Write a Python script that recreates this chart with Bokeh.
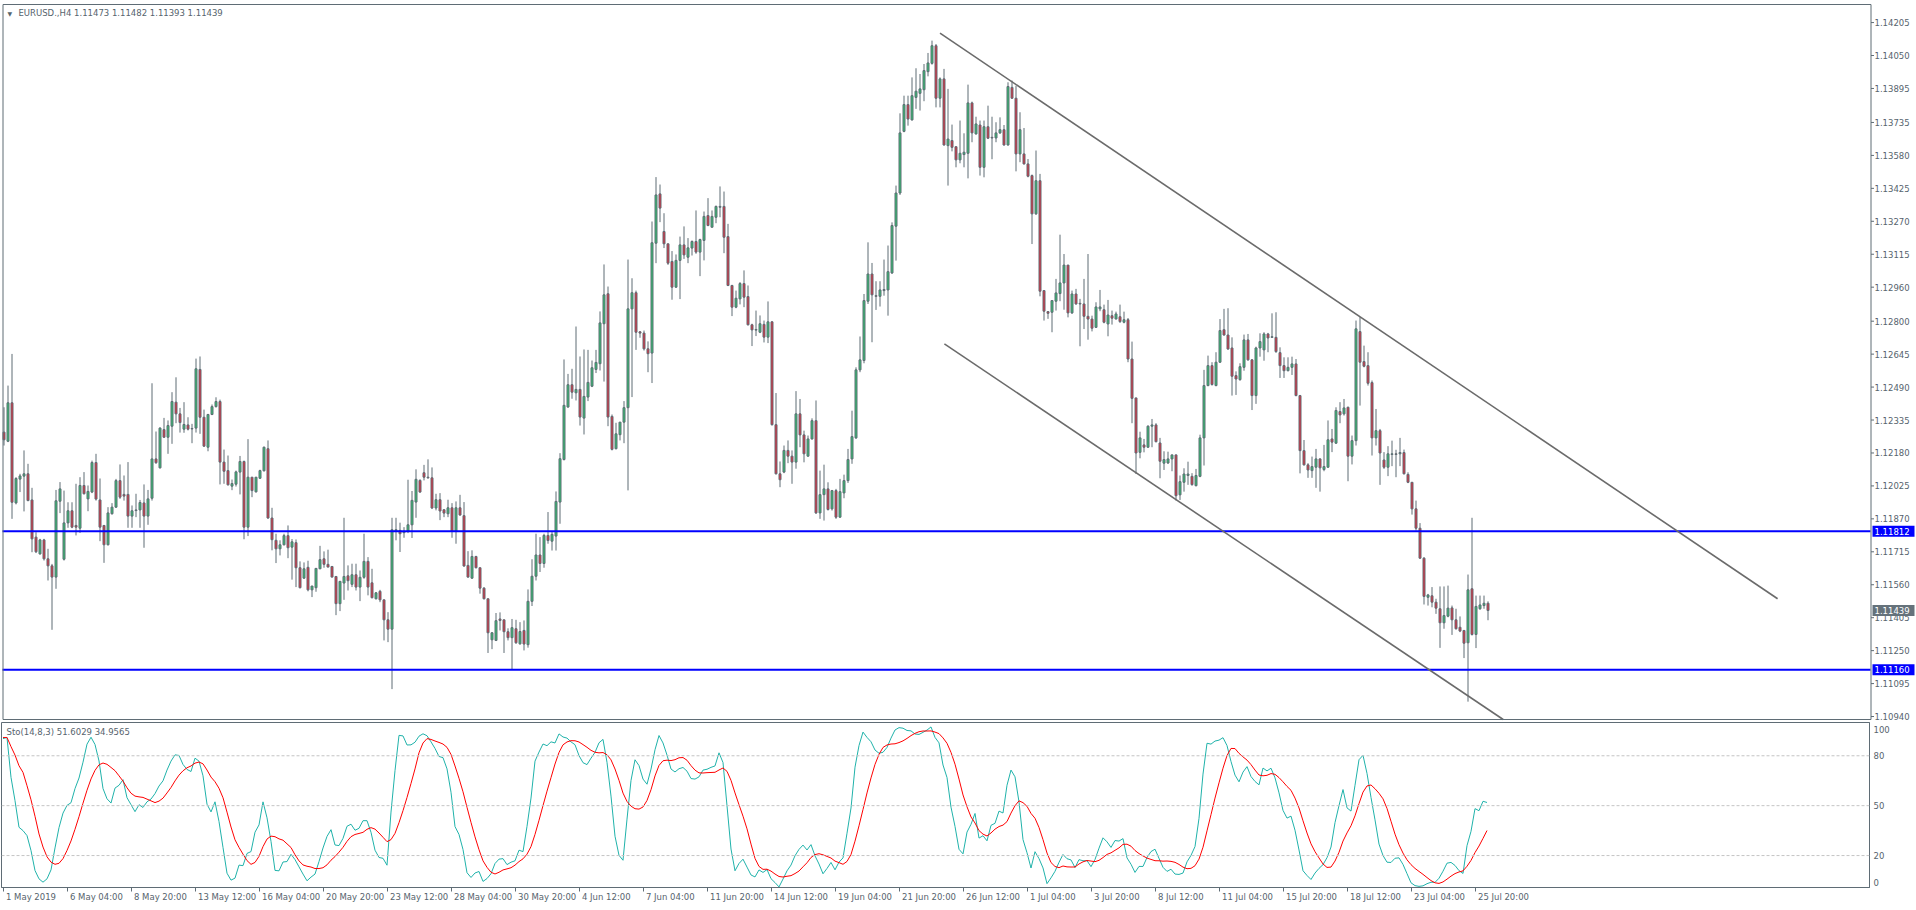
import numpy as np
from bokeh.plotting import figure
from bokeh.layouts import column
from bokeh.models import (Range1d, FixedTicker, CustomJSTickFormatter,
                          Span, Label, LinearAxis, ColumnDataSource)
from bokeh.core.properties import value
from bokeh.embed import file_html
from bokeh.resources import INLINE

# ---------------- data (EURUSD H4, bars 1 May 2019 12:00 .. 26 Jul 2019 08:00) ----------------
symbol_title = "EURUSD.,H4  1.11473 1.11482 1.11393 1.11439"
sto_title = "Sto(14,8,3) 51.6029 34.9565"
sto_k_period, sto_d_period, sto_slowing = 14, 8, 3

bar_open = [
 1.12278, 1.12235, 1.12416, 1.11945, 1.12057, 1.12071, 1.12082, 1.11959, 1.11784, 1.11705,
 1.11771, 1.11682, 1.11649, 1.11596, 1.11953, 1.11680, 1.11851, 1.11908, 1.11839, 1.11826,
 1.12027, 1.11964, 1.11996, 1.12135, 1.11959, 1.11839, 1.11748, 1.11894, 1.11925, 1.12050,
 1.11985, 1.11985, 1.11883, 1.11909, 1.11912, 1.11945, 1.11883, 1.11967, 1.12152, 1.12110,
 1.12290, 1.12254, 1.12306, 1.12419, 1.12364, 1.12292, 1.12312, 1.12295, 1.12297, 1.12573,
 1.12348, 1.12207, 1.12361, 1.12398, 1.12422, 1.12137, 1.12097, 1.12024, 1.12033, 1.12090,
 1.12140, 1.11831, 1.12066, 1.11997, 1.12061, 1.12096, 1.12200, 1.11874, 1.11769, 1.11729,
 1.11748, 1.11791, 1.11737, 1.11758, 1.11640, 1.11591, 1.11642, 1.11536, 1.11546, 1.11635,
 1.11682, 1.11656, 1.11646, 1.11599, 1.11471, 1.11568, 1.11602, 1.11562, 1.11607, 1.11549,
 1.11595, 1.11670, 1.11569, 1.11494, 1.11529, 1.11489, 1.11395, 1.11351, 1.11811, 1.11816,
 1.11805, 1.11811, 1.11842, 1.11949, 1.12051, 1.12087, 1.12066, 1.12063, 1.11921, 1.11960,
 1.11913, 1.11894, 1.11922, 1.11812, 1.11922, 1.11885, 1.11651, 1.11591, 1.11693, 1.11640,
 1.11544, 1.11494, 1.11301, 1.11298, 1.11399, 1.11395, 1.11339, 1.11311, 1.11353, 1.11282,
 1.11345, 1.11278, 1.11482, 1.11600, 1.11700, 1.11660, 1.11792, 1.11765, 1.11789, 1.11949,
 1.12149, 1.12396, 1.12501, 1.12463, 1.12479, 1.12344, 1.12443, 1.12494, 1.12573, 1.12600,
 1.12788, 1.12929, 1.12352, 1.12200, 1.12266, 1.12325, 1.12393, 1.12858, 1.12934, 1.12750,
 1.12744, 1.12670, 1.12650, 1.13167, 1.13399, 1.13222, 1.13164, 1.13081, 1.12960, 1.13086,
 1.13159, 1.13101, 1.13144, 1.13175, 1.13125, 1.13180, 1.13297, 1.13242, 1.13289, 1.13336,
 1.13340, 1.13198, 1.12968, 1.12866, 1.12905, 1.12977, 1.12916, 1.12783, 1.12761, 1.12748,
 1.12785, 1.12725, 1.12797, 1.12313, 1.12082, 1.12090, 1.12192, 1.12165, 1.12137, 1.12364,
 1.12265, 1.12165, 1.12246, 1.12332, 1.11898, 1.11984, 1.12011, 1.11917, 1.12003, 1.11878,
 1.11992, 1.12050, 1.12152, 1.12251, 1.12571, 1.12615, 1.12894, 1.13022, 1.12920, 1.12917,
 1.12944, 1.12947, 1.13027, 1.13247, 1.13403, 1.13693, 1.13819, 1.13747, 1.13853, 1.13872,
 1.13889, 1.13974, 1.14013, 1.14096, 1.13849, 1.13940, 1.13626, 1.13650, 1.13621, 1.13559,
 1.13584, 1.13590, 1.13827, 1.13681, 1.13723, 1.13524, 1.13715, 1.13665, 1.13662, 1.13686,
 1.13701, 1.13629, 1.13900, 1.13849, 1.13587, 1.13587, 1.13540, 1.13485, 1.13305, 1.13461,
 1.12944, 1.12845, 1.12842, 1.12894, 1.12930, 1.12980, 1.13064, 1.12839, 1.12928, 1.12884,
 1.12881, 1.12823, 1.12810, 1.12771, 1.12858, 1.12854, 1.12787, 1.12826, 1.12810, 1.12821,
 1.12795, 1.12807, 1.12622, 1.12439, 1.12183, 1.12218, 1.12207, 1.12306, 1.12312, 1.12227,
 1.12132, 1.12133, 1.12152, 1.12171, 1.11983, 1.12042, 1.12074, 1.12070, 1.12026, 1.12070,
 1.12251, 1.12497, 1.12591, 1.12497, 1.12607, 1.12760, 1.12735, 1.12674, 1.12544, 1.12525,
 1.12583, 1.12712, 1.12618, 1.12450, 1.12674, 1.12665, 1.12740, 1.12724, 1.12724, 1.12652,
 1.12591, 1.12567, 1.12583, 1.12599, 1.12450, 1.12191, 1.12124, 1.12097, 1.12113, 1.12152,
 1.12102, 1.12113, 1.12246, 1.12226, 1.12375, 1.12364, 1.12395, 1.12165, 1.12238, 1.12751,
 1.12610, 1.12591, 1.12511, 1.12251, 1.12285, 1.12147, 1.12113, 1.12173, 1.12176, 1.12176,
 1.12182, 1.12079, 1.12042, 1.11917, 1.11826, 1.11685, 1.11501, 1.11508, 1.11478, 1.11447,
 1.11381, 1.11412, 1.11451, 1.11395, 1.11360, 1.11345, 1.11287, 1.11541, 1.11326, 1.11447,
 1.11462, 1.11473]

bar_high = [
 1.12395, 1.12497, 1.12646, 1.12066, 1.12082, 1.12192, 1.12129, 1.12016, 1.11807, 1.11776,
 1.11776, 1.11729, 1.11658, 1.12006, 1.12043, 1.12003, 1.11948, 1.11948, 1.12035, 1.12066,
 1.12090, 1.12027, 1.12144, 1.12176, 1.12060, 1.11839, 1.11925, 1.11944, 1.12058, 1.12126,
 1.12074, 1.12137, 1.11933, 1.11988, 1.11959, 1.12032, 1.12006, 1.12508, 1.12281, 1.12301,
 1.12345, 1.12333, 1.12466, 1.12536, 1.12392, 1.12419, 1.12348, 1.12317, 1.12624, 1.12634,
 1.12384, 1.12364, 1.12408, 1.12442, 1.12431, 1.12196, 1.12168, 1.12055, 1.12097, 1.12166,
 1.12144, 1.12245, 1.12066, 1.12066, 1.12101, 1.12210, 1.12239, 1.11922, 1.11800, 1.11769,
 1.11800, 1.11839, 1.11775, 1.11773, 1.11670, 1.11665, 1.11673, 1.11554, 1.11637, 1.11743,
 1.11717, 1.11725, 1.11646, 1.11599, 1.11576, 1.11875, 1.11651, 1.11659, 1.11659, 1.11627,
 1.11800, 1.11690, 1.11635, 1.11526, 1.11536, 1.11489, 1.11431, 1.11875, 1.11875, 1.11852,
 1.11831, 1.12054, 1.12001, 1.12103, 1.12056, 1.12124, 1.12150, 1.12112, 1.11988, 1.11991,
 1.11913, 1.11960, 1.11944, 1.11952, 1.11983, 1.11949, 1.11718, 1.11722, 1.11696, 1.11640,
 1.11549, 1.11494, 1.11337, 1.11427, 1.11430, 1.11395, 1.11355, 1.11399, 1.11395, 1.11384,
 1.11392, 1.11538, 1.11680, 1.11800, 1.11784, 1.11800, 1.11902, 1.11808, 1.11999, 1.12179,
 1.12620, 1.12552, 1.12576, 1.12775, 1.12634, 1.12667, 1.12665, 1.12615, 1.12665, 1.12846,
 1.13067, 1.12963, 1.12361, 1.12322, 1.12325, 1.12424, 1.13090, 1.13002, 1.12944, 1.12753,
 1.12756, 1.12705, 1.13269, 1.13478, 1.13443, 1.13308, 1.13164, 1.13130, 1.13114, 1.13198,
 1.13246, 1.13191, 1.13180, 1.13321, 1.13188, 1.13316, 1.13379, 1.13321, 1.13344, 1.13434,
 1.13410, 1.13258, 1.12971, 1.12944, 1.12984, 1.13039, 1.12968, 1.12788, 1.12850, 1.12827,
 1.12803, 1.12893, 1.12800, 1.12462, 1.12140, 1.12215, 1.12239, 1.12192, 1.12471, 1.12434,
 1.12285, 1.12262, 1.12343, 1.12427, 1.12097, 1.12125, 1.12042, 1.12006, 1.12011, 1.12058,
 1.12078, 1.12199, 1.12379, 1.12583, 1.12728, 1.12928, 1.13171, 1.13074, 1.12988, 1.12988,
 1.13090, 1.13156, 1.13265, 1.13438, 1.13778, 1.13861, 1.13861, 1.13947, 1.13990, 1.13963,
 1.14010, 1.14062, 1.14120, 1.14104, 1.13947, 1.13987, 1.13893, 1.13725, 1.13621, 1.13744,
 1.13684, 1.13913, 1.13833, 1.13762, 1.13744, 1.13744, 1.13814, 1.13762, 1.13736, 1.13759,
 1.13723, 1.13924, 1.13932, 1.13908, 1.13783, 1.13709, 1.13563, 1.13490, 1.13603, 1.13493,
 1.12944, 1.12847, 1.12897, 1.12999, 1.13207, 1.13116, 1.13064, 1.12944, 1.12952, 1.12905,
 1.12999, 1.13116, 1.12826, 1.12889, 1.12947, 1.12878, 1.12900, 1.12850, 1.12845, 1.12878,
 1.12845, 1.12815, 1.12704, 1.12439, 1.12280, 1.12246, 1.12310, 1.12340, 1.12320, 1.12251,
 1.12188, 1.12186, 1.12172, 1.12172, 1.12074, 1.12108, 1.12139, 1.12085, 1.12105, 1.12266,
 1.12571, 1.12638, 1.12607, 1.12654, 1.12810, 1.12858, 1.12861, 1.12724, 1.12564, 1.12602,
 1.12737, 1.12740, 1.12622, 1.12680, 1.12743, 1.12748, 1.12745, 1.12837, 1.12842, 1.12677,
 1.12630, 1.12630, 1.12633, 1.12622, 1.12453, 1.12241, 1.12132, 1.12163, 1.12199, 1.12155,
 1.12218, 1.12333, 1.12293, 1.12395, 1.12419, 1.12434, 1.12398, 1.12262, 1.12803, 1.12819,
 1.12685, 1.12654, 1.12521, 1.12387, 1.12293, 1.12184, 1.12212, 1.12238, 1.12195, 1.12251,
 1.12196, 1.12089, 1.12042, 1.11956, 1.11850, 1.11690, 1.11517, 1.11549, 1.11494, 1.11552,
 1.11552, 1.11556, 1.11462, 1.11447, 1.11411, 1.11345, 1.11608, 1.11875, 1.11509, 1.11509,
 1.11509, 1.11482]

bar_low = [
 1.12215, 1.12231, 1.11870, 1.11938, 1.11996, 1.11905, 1.11953, 1.11713, 1.11709, 1.11702,
 1.11674, 1.11580, 1.11348, 1.11541, 1.11897, 1.11674, 1.11828, 1.11826, 1.11792, 1.11804,
 1.11985, 1.11906, 1.11991, 1.11956, 1.11765, 1.11663, 1.11745, 1.11890, 1.11922, 1.11964,
 1.11956, 1.11828, 1.11828, 1.11878, 1.11828, 1.11734, 1.11842, 1.11956, 1.12129, 1.12107,
 1.12251, 1.12176, 1.12223, 1.12320, 1.12276, 1.12275, 1.12286, 1.12226, 1.12276, 1.12270,
 1.12209, 1.12188, 1.12358, 1.12394, 1.12032, 1.12035, 1.12027, 1.12005, 1.12022, 1.11985,
 1.11774, 1.11789, 1.11972, 1.11994, 1.12058, 1.12093, 1.11870, 1.11722, 1.11662, 1.11698,
 1.11745, 1.11685, 1.11584, 1.11549, 1.11543, 1.11588, 1.11529, 1.11502, 1.11527, 1.11634,
 1.11640, 1.11643, 1.11595, 1.11417, 1.11436, 1.11489, 1.11533, 1.11549, 1.11533, 1.11483,
 1.11588, 1.11510, 1.11496, 1.11491, 1.11478, 1.11298, 1.11290, 1.11069, 1.11769, 1.11714,
 1.11781, 1.11803, 1.11780, 1.11875, 1.11993, 1.12051, 1.12059, 1.11916, 1.11910, 1.11864,
 1.11878, 1.11878, 1.11781, 1.11753, 1.11885, 1.11645, 1.11593, 1.11588, 1.11637, 1.11518,
 1.11491, 1.11239, 1.11257, 1.11295, 1.11345, 1.11239, 1.11298, 1.11160, 1.11282, 1.11278,
 1.11251, 1.11264, 1.11460, 1.11580, 1.11620, 1.11640, 1.11753, 1.11721, 1.11721, 1.11847,
 1.12145, 1.12393, 1.12435, 1.12427, 1.12309, 1.12267, 1.12424, 1.12490, 1.12556, 1.12568,
 1.12516, 1.12306, 1.12192, 1.12197, 1.12239, 1.12226, 1.12004, 1.12443, 1.12665, 1.12722,
 1.12662, 1.12560, 1.12509, 1.13073, 1.13266, 1.13144, 1.13065, 1.12901, 1.12957, 1.12904,
 1.13093, 1.13073, 1.13109, 1.13117, 1.13012, 1.13086, 1.13247, 1.13242, 1.13261, 1.13289,
 1.13120, 1.12965, 1.12824, 1.12861, 1.12879, 1.12866, 1.12780, 1.12683, 1.12730, 1.12744,
 1.12700, 1.12697, 1.12309, 1.12079, 1.12019, 1.12085, 1.12132, 1.12035, 1.12106, 1.12207,
 1.12136, 1.12163, 1.12243, 1.11893, 1.11870, 1.11862, 1.11909, 1.11909, 1.11870, 1.11875,
 1.11967, 1.12039, 1.12129, 1.12246, 1.12560, 1.12602, 1.12881, 1.12701, 1.12853, 1.12869,
 1.12920, 1.12826, 1.13022, 1.13085, 1.13394, 1.13689, 1.13720, 1.13744, 1.13799, 1.13791,
 1.13835, 1.13952, 1.14007, 1.13806, 1.13806, 1.13626, 1.13438, 1.13599, 1.13524, 1.13543,
 1.13524, 1.13472, 1.13642, 1.13678, 1.13485, 1.13477, 1.13657, 1.13562, 1.13642, 1.13681,
 1.13626, 1.13626, 1.13846, 1.13505, 1.13548, 1.13537, 1.13477, 1.13163, 1.13300, 1.12917,
 1.12803, 1.12811, 1.12748, 1.12850, 1.12894, 1.12854, 1.12818, 1.12834, 1.12878, 1.12682,
 1.12763, 1.12713, 1.12752, 1.12768, 1.12847, 1.12790, 1.12729, 1.12784, 1.12810, 1.12792,
 1.12790, 1.12607, 1.12320, 1.12081, 1.12155, 1.12183, 1.12204, 1.12207, 1.12230, 1.12061,
 1.12100, 1.12128, 1.12094, 1.11956, 1.11959, 1.11998, 1.12030, 1.12026, 1.12023, 1.12066,
 1.12121, 1.12494, 1.12497, 1.12494, 1.12604, 1.12732, 1.12666, 1.12450, 1.12453, 1.12520,
 1.12567, 1.12614, 1.12382, 1.12411, 1.12633, 1.12614, 1.12654, 1.12721, 1.12651, 1.12533,
 1.12533, 1.12564, 1.12547, 1.12447, 1.12084, 1.12121, 1.12063, 1.12063, 1.12016, 1.11998,
 1.12094, 1.12110, 1.12184, 1.12223, 1.12320, 1.12356, 1.12047, 1.12126, 1.12215, 1.12403,
 1.12583, 1.12497, 1.12168, 1.12215, 1.12030, 1.12105, 1.12071, 1.12118, 1.12066, 1.12118,
 1.12079, 1.12038, 1.11890, 1.11815, 1.11682, 1.11467, 1.11462, 1.11454, 1.11423, 1.11263,
 1.11353, 1.11407, 1.11324, 1.11349, 1.11337, 1.11215, 1.11010, 1.11321, 1.11262, 1.11442,
 1.11447, 1.11393]

bar_close = [
 1.12242, 1.12416, 1.11948, 1.12060, 1.12072, 1.12082, 1.11956, 1.11776, 1.11715, 1.11771,
 1.11682, 1.11649, 1.11596, 1.11955, 1.12011, 1.11851, 1.11908, 1.11831, 1.11831, 1.12027,
 1.11988, 1.11999, 1.12135, 1.11963, 1.11831, 1.11748, 1.11898, 1.11925, 1.12050, 1.11972,
 1.11977, 1.11883, 1.11908, 1.11912, 1.11947, 1.11883, 1.11964, 1.12152, 1.12134, 1.12297,
 1.12254, 1.12309, 1.12422, 1.12364, 1.12323, 1.12314, 1.12292, 1.12293, 1.12576, 1.12348,
 1.12212, 1.12361, 1.12398, 1.12422, 1.12137, 1.12094, 1.12030, 1.12036, 1.12091, 1.12140,
 1.11831, 1.12066, 1.12003, 1.12066, 1.12097, 1.12207, 1.11874, 1.11772, 1.11729, 1.11748,
 1.11791, 1.11734, 1.11762, 1.11640, 1.11546, 1.11635, 1.11536, 1.11554, 1.11637, 1.11678,
 1.11656, 1.11643, 1.11596, 1.11471, 1.11576, 1.11599, 1.11579, 1.11607, 1.11549, 1.11595,
 1.11670, 1.11549, 1.11499, 1.11522, 1.11489, 1.11395, 1.11351, 1.11819, 1.11819, 1.11800,
 1.11811, 1.11842, 1.11957, 1.12056, 1.11996, 1.12066, 1.12063, 1.11921, 1.11960, 1.11907,
 1.11897, 1.11922, 1.11812, 1.11922, 1.11888, 1.11648, 1.11596, 1.11693, 1.11640, 1.11544,
 1.11494, 1.11334, 1.11334, 1.11391, 1.11392, 1.11339, 1.11311, 1.11358, 1.11287, 1.11340,
 1.11281, 1.11482, 1.11600, 1.11700, 1.11660, 1.11792, 1.11768, 1.11797, 1.11952, 1.12153,
 1.12404, 1.12501, 1.12466, 1.12479, 1.12349, 1.12446, 1.12512, 1.12581, 1.12606, 1.12792,
 1.12924, 1.12349, 1.12197, 1.12270, 1.12325, 1.12393, 1.12858, 1.12934, 1.12748, 1.12744,
 1.12670, 1.12647, 1.13169, 1.13394, 1.13332, 1.13164, 1.13073, 1.12960, 1.13086, 1.13159,
 1.13112, 1.13145, 1.13175, 1.13125, 1.13184, 1.13293, 1.13250, 1.13293, 1.13340, 1.13340,
 1.13195, 1.12968, 1.12866, 1.12908, 1.12977, 1.12913, 1.12783, 1.12759, 1.12758, 1.12788,
 1.12725, 1.12797, 1.12313, 1.12082, 1.12054, 1.12192, 1.12165, 1.12137, 1.12364, 1.12265,
 1.12176, 1.12246, 1.12332, 1.11898, 1.11984, 1.12011, 1.11914, 1.12003, 1.11878, 1.11998,
 1.12050, 1.12149, 1.12257, 1.12571, 1.12618, 1.12897, 1.13022, 1.12924, 1.12917, 1.12947,
 1.12949, 1.13033, 1.13250, 1.13403, 1.13686, 1.13819, 1.13751, 1.13861, 1.13882, 1.13893,
 1.13979, 1.14015, 1.14096, 1.13849, 1.13940, 1.13629, 1.13657, 1.13618, 1.13559, 1.13590,
 1.13595, 1.13827, 1.13686, 1.13728, 1.13524, 1.13715, 1.13661, 1.13662, 1.13686, 1.13701,
 1.13629, 1.13904, 1.13849, 1.13587, 1.13701, 1.13540, 1.13482, 1.13305, 1.13461, 1.12941,
 1.12847, 1.12837, 1.12897, 1.12933, 1.12980, 1.13064, 1.12839, 1.12928, 1.12881, 1.12881,
 1.12823, 1.12810, 1.12767, 1.12867, 1.12867, 1.12795, 1.12829, 1.12814, 1.12834, 1.12798,
 1.12807, 1.12622, 1.12437, 1.12180, 1.12251, 1.12207, 1.12306, 1.12312, 1.12233, 1.12141,
 1.12149, 1.12152, 1.12171, 1.11979, 1.12045, 1.12081, 1.12081, 1.12031, 1.12074, 1.12251,
 1.12497, 1.12591, 1.12502, 1.12607, 1.12756, 1.12735, 1.12669, 1.12541, 1.12528, 1.12586,
 1.12712, 1.12618, 1.12450, 1.12674, 1.12704, 1.12740, 1.12721, 1.12727, 1.12657, 1.12591,
 1.12567, 1.12583, 1.12599, 1.12450, 1.12191, 1.12124, 1.12100, 1.12116, 1.12152, 1.12110,
 1.12116, 1.12242, 1.12231, 1.12380, 1.12359, 1.12392, 1.12165, 1.12238, 1.12764, 1.12607,
 1.12588, 1.12508, 1.12251, 1.12285, 1.12180, 1.12113, 1.12176, 1.12176, 1.12173, 1.12182,
 1.12082, 1.12042, 1.11917, 1.11826, 1.11685, 1.11505, 1.11512, 1.11478, 1.11450, 1.11381,
 1.11415, 1.11450, 1.11395, 1.11353, 1.11342, 1.11285, 1.11536, 1.11326, 1.11458, 1.11465,
 1.11473, 1.11439]

# stochastic values of the first bars (their look-back reaches before bar 0)
sto_main_lead = [90.3, 91.0, 67.0, 53.0, 37.0, 35.0, 32.0, 23.0, 11.0, 6.0, 4.0, 6.0, 11.4, 24.6, 36.8]
sto_signal_lead = [91.0, 91.0, 85.5, 80.4, 74.0, 70.0, 62.0]

time_label_bars = [0, 16, 32, 48, 64, 80, 96, 112, 128, 144, 160, 176,
                   192, 208, 224, 240, 256, 272, 288, 304, 320, 336, 352, 368]
time_labels = ["1 May 2019", "6 May 04:00", "8 May 20:00", "13 May 12:00", "16 May 04:00",
               "20 May 20:00", "23 May 12:00", "28 May 04:00", "30 May 20:00", "4 Jun 12:00",
               "7 Jun 04:00", "11 Jun 20:00", "14 Jun 12:00", "19 Jun 04:00", "21 Jun 20:00",
               "26 Jun 12:00", "1 Jul 04:00", "3 Jul 20:00", "8 Jul 12:00", "11 Jul 04:00",
               "15 Jul 20:00", "18 Jul 12:00", "23 Jul 04:00", "25 Jul 20:00"]

price_ticks = [1.14205, 1.14050, 1.13895, 1.13735, 1.13580, 1.13425, 1.13270, 1.13115,
               1.12960, 1.12800, 1.12645, 1.12490, 1.12335, 1.12180, 1.12025, 1.11870,
               1.11715, 1.11560, 1.11405, 1.11250, 1.11095, 1.10940]
price_view = [1.10926, 1.14290]

level_lines = [1.11812, 1.11160]
channel_upper_bars = [234.0, 443.4]
channel_upper_prices = [1.14155, 1.11494]
channel_lower_bars = [235.1, 374.8]
channel_lower_prices = [1.12693, 1.10926]

sto_levels = [20, 50, 80]
sto_view = [0.8, 100.0]
sto_axis_values = [3.8, 20, 50, 80, 95.8]
sto_axis_labels = ["0", "20", "50", "80", "100"]

# ---------------- styling / layout (page coordinates of the original terminal window) ----------------
FONT = "DejaVu Sans"
FS = "8.5px"
FS_PX = 8.5
TXT = "#56636d"
FRAME = "#5f6c75"
WICK = "#5f6c75"
BULL = "#2fc46f"
BEAR = "#e8293b"
TEAL = "#20b2aa"
RED = "#ff0000"
BLUE = "#0000ff"
LASTBOX = "#65727b"
CHANNEL = "#6b6b6b"

PAGE_W, PAGE_H = 1916, 910
PX = 4.0                          # pixels per bar
XS = -0.625                       # bar coordinate at the canvas' left edge (bar 0 centred at x = 2.5)
CHART_L, CHART_R = 1, 1869        # chart area, px
CHART_T, CHART_B = 4, 719
MAIN_H = 721
X0 = XS + CHART_L / PX
X1 = XS + CHART_R / PX
main_ppu = (CHART_B - CHART_T) / (price_view[1] - price_view[0])
STO_T, STO_B = 722, 887
STO_H = PAGE_H - MAIN_H
sto_ppu = (STO_B - STO_T) / (sto_view[1] - sto_view[0])

CHAR_EM = {" ": 0.318, ":": 0.337, "M": 0.863, "J": 0.295, "a": 0.613, "y": 0.592,
           "u": 0.634, "n": 0.634, "l": 0.278}
def text_px(t):
    return sum(0.636 if ch.isdigit() else CHAR_EM.get(ch, 0.6) for ch in t) * FS_PX

o = np.array(bar_open); h = np.array(bar_high); l = np.array(bar_low); c = np.array(bar_close)
n = len(c)
assert len(o) == n and len(h) == n and len(l) == n, (len(o), len(h), len(l), n)
idx = np.arange(n)
bull = c >= o

# ---------------- main price panel (price scale drawn inside the canvas) ----------------
y_top = price_view[1] + CHART_T / main_ppu
y_bot = price_view[0] - (MAIN_H - CHART_B) / main_ppu
p = figure(frame_width=PAGE_W, frame_height=MAIN_H,
           x_range=Range1d(XS, XS + PAGE_W / PX), y_range=Range1d(y_bot, y_top),
           output_backend="svg", toolbar_location=None, x_axis_location=None,
           y_axis_location=None, min_border=0, min_border_left=0, min_border_right=0,
           min_border_top=0, min_border_bottom=0, title=None)
p.grid.visible = False
p.outline_line_color = None
p.background_fill_color = "white"
p.border_fill_color = "white"

src = ColumnDataSource(dict(x=idx, hi=h, lo=l, top=np.maximum(o, c), bot=np.minimum(o, c),
                            fill=np.where(bull, BULL, BEAR)))
p.segment(x0="x", y0="hi", x1="x", y1="lo", source=src, line_color=WICK, line_width=1)
p.vbar(x="x", width=0.5, top="top", bottom="bot", source=src, fill_color="fill",
       line_color=WICK, line_width=1)

p.segment(x0=[X0] * len(level_lines), x1=[X1] * len(level_lines), y0=level_lines, y1=level_lines,
          line_color=BLUE, line_width=2)

p.line(channel_upper_bars, channel_upper_prices, line_color=CHANNEL, line_width=1.6)
p.line(channel_lower_bars, channel_lower_prices, line_color=CHANNEL, line_width=1.6)

edge = 0.5 / PX
p.quad(left=[X0 + edge], right=[X1 + edge], bottom=[price_view[0]], top=[price_view[1]],
       fill_color=None, line_color=FRAME, line_width=1)

tick_src = ColumnDataSource(dict(x0=[X1 + edge] * len(price_ticks),
                                 x1=[X1 + edge + 3 / PX] * len(price_ticks),
                                 y=price_ticks, lx=[X1 + 4 / PX] * len(price_ticks),
                                 text=[f"{v:.5f}" for v in price_ticks]))
p.segment(x0="x0", y0="y", x1="x1", y1="y", source=tick_src, line_color=FRAME, line_width=1)
p.text(x="lx", y="y", text="text", source=tick_src, text_font=value(FONT),
       text_font_size=value(FS), text_color=TXT, text_align="left", text_baseline="middle")

box_prices = level_lines + [float(c[-1])]
box_src = ColumnDataSource(dict(
    left=[X1 + 2 / PX] * len(box_prices), right=[X1 + 44 / PX] * len(box_prices),
    bottom=[v - 5.5 / main_ppu for v in box_prices], top=[v + 5.5 / main_ppu for v in box_prices],
    lx=[X1 + 4 / PX] * len(box_prices), y=box_prices,
    text=[f"{v:.5f}" for v in box_prices],
    bg=[BLUE] * len(level_lines) + [LASTBOX]))
p.quad(left="left", right="right", bottom="bottom", top="top", source=box_src,
       fill_color="bg", line_color=None)
p.text(x="lx", y="y", text="text", source=box_src, text_font=value(FONT),
       text_font_size=value(FS), text_color="white", text_align="left", text_baseline="middle")

title_y = y_top - 12.5 / main_ppu
p.add_layout(Label(x=XS + 6.0 / PX, y=title_y, text="\u25bc", text_font=FONT,
                   text_font_size="6px", text_color=TXT, text_align="left", text_baseline="middle"))
p.add_layout(Label(x=XS + 17.0 / PX, y=title_y, text=symbol_title, text_font=FONT,
                   text_font_size=FS, text_color=TXT, text_align="left", text_baseline="middle"))

# ---------------- stochastic oscillator ----------------
num = np.empty(n); den = np.empty(n)
for i in range(n):
    a = max(0, i - sto_k_period + 1)
    num[i] = c[i] - l[a:i + 1].min(); den[i] = h[a:i + 1].max() - l[a:i + 1].min()
sto_main = np.empty(n)
for i in range(n):
    if i < len(sto_main_lead):
        sto_main[i] = sto_main_lead[i]
    else:
        a = i - sto_slowing + 1
        sto_main[i] = 100.0 * num[a:i + 1].sum() / den[a:i + 1].sum()
sto_signal = np.array([sto_signal_lead[i] if i < len(sto_signal_lead)
                       else sto_main[i - sto_d_period + 1:i + 1].mean() for i in range(n)])

s = figure(frame_width=CHART_R - CHART_L, frame_height=STO_B - STO_T,
           x_range=Range1d(X0, X1), y_range=Range1d(sto_view[0], sto_view[1]),
           output_backend="svg", toolbar_location=None, y_axis_location="right",
           min_border_left=CHART_L, min_border_right=PAGE_W - CHART_R,
           min_border_top=STO_T - MAIN_H, min_border_bottom=STO_H - (STO_B - MAIN_H),
           title=None)
s.grid.visible = False
s.outline_line_color = FRAME
s.background_fill_color = "white"
s.border_fill_color = "white"

xa = s.xaxis[0]
xa.ticker = FixedTicker(ticks=time_label_bars)
xa.formatter = CustomJSTickFormatter(code="return ''")
xa.axis_line_color = FRAME
xa.major_tick_line_color = FRAME
xa.major_tick_out = 4
xa.major_tick_in = 0
xa.minor_tick_line_color = None
xa.major_label_standoff = 0
xa.major_label_text_font_size = "1px"

label_centres = [kb + (3.0 + text_px(t) / 2.0) / PX for kb, t in zip(time_label_bars, time_labels)]
la = LinearAxis(ticker=FixedTicker(ticks=label_centres),
                formatter=CustomJSTickFormatter(args=dict(labels=time_labels), code="return labels[index]"))
la.axis_line_color = None
la.major_tick_line_color = None
la.major_tick_out = 0
la.major_tick_in = 0
la.minor_tick_line_color = None
la.major_label_standoff = 0
la.major_label_text_font = FONT
la.major_label_text_font_size = FS
la.major_label_text_color = TXT
s.add_layout(la, "below")

sa = s.yaxis[0]
sa.ticker = FixedTicker(ticks=sto_axis_values)
sa.formatter = CustomJSTickFormatter(args=dict(labels=sto_axis_labels), code="return labels[index]")
sa.axis_line_color = FRAME
sa.major_tick_line_color = None
sa.major_tick_out = 0
sa.major_tick_in = 0
sa.minor_tick_line_color = None
sa.major_label_standoff = 4
sa.major_label_text_font = FONT
sa.major_label_text_font_size = FS
sa.major_label_text_color = TXT

for lv in sto_levels:
    s.add_layout(Span(location=lv, dimension="width", line_color="#c4c4c4", line_width=1,
                      line_dash="3 2"))

s.line(idx, sto_main, line_color=TEAL, line_width=1)
s.line(idx, sto_signal, line_color=RED, line_width=1)

s.add_layout(Label(x=X0 + 5.0 / PX, y=sto_view[1] - 9.0 / sto_ppu, text=sto_title,
                   text_font=FONT, text_font_size=FS, text_color=TXT, text_align="left",
                   text_baseline="middle"))

layout = column(p, s)
open("out.html", "w").write(file_html(layout, INLINE, "EURUSD H4"))
